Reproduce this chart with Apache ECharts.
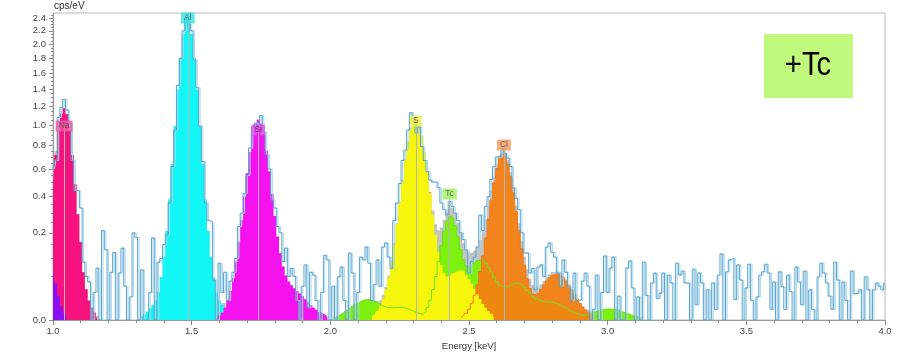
<!DOCTYPE html>
<html><head><meta charset="utf-8">
<script src="https://cdn.jsdelivr.net/npm/echarts@6/dist/echarts.min.js"></script>
<style>html,body{margin:0;padding:0;background:#fff}#c{width:897px;height:361px}</style>
</head><body><div id="c"></div>
<script>
// ---------- data (cps/eV, 10 eV channels) ----------
const channelStart = 1.00;
const channelWidth = 0.01;
const spectrum = [
 0.60,0.67,1.08,1.19,1.28,1.16,1.02,0.67,0.44,0.44,0.33,
 0.088,0.05,0.038,0,0.02,0.071,0,0.21,0.13,0,
 0.06,0.12,0,0.058,0.136,0.03,0,0.014,0.2,0.18,
 0,0.066,0,0,0.02,0.177,0,0.088,0.10,0.15,
 0.19,0.36,0.62,0.95,1.45,1.80,2.20,2.38,2.30,2.20,
 1.78,1.42,0.99,0.66,0.36,0.26,0.25,0.042,0,0.085,
 0.02,0.06,0.01,0.04,0.06,0.10,0.23,0.30,0.42,0.55,
 0.78,0.98,1.02,0.98,1.10,0.93,0.72,0.60,0.38,0.33,
 0.23,0.20,0.09,0.136,0.05,0.07,0.05,0.01,0,0.03,
 0.08,0.004,0.06,0.053,0.01,0,0.02,0.11,0.095,0,
 0.03,0,0.049,0.074,0.01,0,0.118,0.058,0,0.02,
 0.104,0.095,0.14,0.085,0.01,0.033,0.095,0.03,0.14,0.156,
 0.104,0.07,0.26,0.36,0.49,0.67,0.76,0.95,1.13,1.05,
 0.92,0.98,0.79,0.67,0.58,0.515,0.50,0.50,0.46,0.36,
 0.32,0.29,0.37,0.34,0.30,0.26,0.20,0.17,0.129,0.058,
 0.09,0.104,0.14,0.29,0.21,0.34,0.40,0.52,0.62,0.70,
 0.70,0.78,0.73,0.69,0.62,0.46,0.39,0.32,0.20,0.118,
 0.118,0.058,0.07,0.024,0.074,0.08,0.05,0.14,0.156,0.12,
 0.104,0.058,0.03,0.095,0.06,0.029,0.01,0.058,0.01,0.0105,
 0.04,0.058,0.03,0,0.003,0.053,0,0.02,0.108,0.02,
 0.071,0.104,0,0.015,0,0,0.071,0.092,0.027,0,
 0.014,0,0.088,0.016,0,0.036,0.058,0.012,0.019,0.058,
 0,0.053,0.036,0,0.085,0.053,0.063,0.036,0.036,0,
 0.068,0.006,0.058,0.036,0,0.024,0,0.036,0.003,0.053,
 0.115,0,0.061,0.095,0.101,0.011,0.08,0.042,0,0.027,
 0.082,0.01,0,0.014,0.053,0.061,0.082,0.058,0.003,0.038,
 0,0.061,0.029,0.003,0.053,0.021,0,0.074,0.038,0.006,
 0.063,0,0.024,0.003,0,0.049,0.085,0.058,0.036,0.015,
 0.003,0.088,0.042,0,0.038,0.01,0,0.063,0.018,0.019,
 0.024,0,0.049,0.024,0,0.024,0.036,0.03,0.024,0.036
];
const purpleStart = 1.00;
const purpleFit = [0.066,0.035,0.015,0.005,0.0015,0.0003];
const naStart = 1.00;
const naFit = [0.485,0.716,0.945,1.116,1.18,1.116,0.945,0.716,0.485,0.294,0.160,0.060,0.025,0.010,0.004,0.0015,0.0005];
const alStart = 1.32;
const alFit = [0.0003,0.0008,0.0018,0.0035,0.006,0.010,0.020,0.048,0.104,0.208,0.382,0.641,0.987,1.395,1.809,2.150,2.344,2.344,2.150,1.809,1.395,0.987,0.641,0.382,0.208,0.104,0.048,0.020,0.010,0.006,0.0035,0.0018,0.0008,0.0003];
const siStart = 1.59;
const siFit = [0.0002,0.0006,0.0015,0.0040,0.0099,0.022,0.046,0.089,0.159,0.262,0.400,0.566,0.742,0.900,1.010,1.054,1.016,0.908,0.753,0.581,0.418,0.284,0.184,0.117,0.075,0.052,0.039,0.032,0.0265,0.0223,0.0184,0.0147,0.0113,0.0083,0.0059,0.0040,0.0027,0.0017,0.0010,0.0006,0.0003];
const sStart = 2.15;
const sFit = [0.0004,0.0009,0.0022,0.0053,0.0118,0.0246,0.048,0.088,0.151,0.242,0.364,0.513,0.676,0.834,0.964,1.043,1.057,1.003,0.891,0.741,0.578,0.423,0.291,0.191,0.121,0.079,0.058,0.050,0.052,0.057,0.062,0.065,0.0645,0.0606,0.0535,0.0443,0.0345,0.0253,0.0174,0.0112,0.0068,0.0039,0.002,0.001,0.0005];
const tcStart = 2.01;
const tcFit = [0.0001,0.0002,0.0005,0.0009,0.0015,0.0024,0.0036,0.0050,0.0067,0.0083,
 0.0097,0.0107,0.0110,0.0107,0.0099,0.0086,0.0072,0.0059,0.0049,0.0042,
 0.0039,0.0039,0.0040,0.0041,0.0041,0.0039,0.0035,0.0030,0.0024,0.0018,
 0.0013,0.0010,0.0009,0.0016,0.0040,0.0103,0.0241,0.0499,0.0909,0.1459,
 0.2061,0.2565,0.2815,0.2730,0.2353,0.1827,0.1320,0.0952,0.0763,0.0723,
 0.0775,0.0858,0.0928,0.0954,0.0925,0.0846,0.0732,0.0604,0.0482,0.0384,
 0.0319,0.0289,0.0288,0.0306,0.0331,0.0351,0.0357,0.0345,0.0316,0.0275,
 0.0228,0.0184,0.0147,0.0119,0.0101,0.0092,0.0087,0.0086,0.0084,0.0080,
 0.0072,0.0064,0.0054,0.0043,0.0033,0.0024,0.0016,0.0012,0.0009,0.0007,
 0.0006,0.0008,0.0010,0.0013,0.0017,0.0022,0.0026,0.0029,0.0031,0.0032,
 0.0031,0.0029,0.0026,0.0022,0.0017,0.0013,0.0010,0.0007,0.0004,0.0003,
 0.0002,0.0001];
const clStart = 2.47;
const clFit = [0.0002,0.0005,0.0012,0.0031,0.0074,0.0161,0.0327,0.0618,0.108,0.177,
 0.268,0.378,0.495,0.603,0.683,0.720,0.703,0.640,0.541,0.425,
 0.310,0.211,0.134,0.079,0.045,0.026,0.0174,0.0159,0.0187,0.0245,
 0.0318,0.0396,0.0469,0.0525,0.0556,0.0556,0.0525,0.0469,0.0396,0.0315,
 0.0238,0.0169,0.0114,0.0072,0.0043,0.0025,0.0013,0.0007,0.0003];
const elementNames = ['Na','Al','Si','S','Tc','Cl'];
const elementEnergy = [1.040,1.486,1.740,2.308,2.430,2.626];
const elementLabelHeight = [0.99,2.40,0.949,1.041,0.4175,0.805];
const elementLabelColors = ['#f25aa6','#30e4e8','#e24ee8','#f0f050','#a2f262','#f59c5c'];
const yTop = 2.48;
const yTickLabels = [0,0.2,0.4,0.6,0.8,1.0,1.2,1.4,1.6,1.8,2.0,2.2,2.4];
const yMinorTicks = [0.05,0.1,0.15,0.25,0.3,0.35,0.45,0.5,0.55,0.65,0.7,0.75,0.85,0.9,0.95,1.05,1.1,1.15,1.25,1.3,1.35,1.45,1.5,1.55,1.65,1.7,1.75,1.85,1.9,1.95,2.05,2.1,2.15,2.25,2.3,2.35,2.45];

// ---------- helpers ----------
const sq = v => Math.sqrt(Math.max(v, 0));
const pairs = (start, arr) => arr.map((v, i) => [+(start + i * channelWidth).toFixed(3), sq(v)]);
const total = new Array(spectrum.length).fill(0);
[[purpleStart,purpleFit],[naStart,naFit],[alStart,alFit],[siStart,siFit],[sStart,sFit],[tcStart,tcFit],[clStart,clFit]].forEach(([s, a]) => {
  const o = Math.round((s - channelStart) / channelWidth);
  a.forEach((v, i) => { if (o + i >= 0 && o + i < total.length) total[o + i] += v; });
});
function fill(name, start, arr, color, opacity) {
  return { type: 'line', name, step: 'middle', symbol: 'none', silent: true,
    data: pairs(start, arr), lineStyle: { width: 0 },
    areaStyle: { color, opacity: opacity == null ? 1 : opacity } };
}

const chart = echarts.init(document.getElementById('c'), null, { renderer: 'canvas' });
chart.setOption({
  animation: false,
  textStyle: { fontFamily: 'Liberation Sans' },
  grid: { left: 53, right: 12, top: 13, bottom: 41, show: true, borderColor: '#b8b8b8', borderWidth: 1 },
  xAxis: {
    type: 'value', min: 1, max: 4, interval: 0.5,
    name: 'Energy [keV]', nameLocation: 'middle', nameGap: 18,
    nameTextStyle: { fontSize: 9.5, color: '#333' },
    axisLine: { lineStyle: { color: '#9a9a9a' } },
    axisTick: { length: 5, lineStyle: { color: '#8a8a8a' } },
    minorTick: { show: true, splitNumber: 5, length: 3, lineStyle: { color: '#8a8a8a' } },
    axisLabel: { formatter: v => v.toFixed(1), fontSize: 9.5, color: '#444', margin: 6 },
    splitLine: { show: false }, minorSplitLine: { show: false }
  },
  yAxis: [
    { type: 'value', min: 0, max: sq(yTop), position: 'left',
      name: 'cps/eV', nameLocation: 'end', nameGap: 2,
      nameTextStyle: { align: 'left', verticalAlign: 'bottom', fontSize: 10, color: '#333', padding: [0, 0, 0, 1] },
      axisLine: { show: true, lineStyle: { color: '#9a9a9a' } },
      axisTick: { show: true, length: 4, customValues: yTickLabels.map(sq), lineStyle: { color: '#8a8a8a' } },
      axisLabel: { customValues: yTickLabels.map(sq), formatter: v => (v * v).toFixed(1), fontSize: 9.5, color: '#444', margin: 7 },
      splitLine: { show: false } },
    { type: 'value', min: 0, max: sq(yTop), position: 'left',
      axisLine: { show: false }, axisLabel: { show: false },
      axisTick: { show: true, length: 2, customValues: yMinorTicks.map(sq), lineStyle: { color: '#8a8a8a' } },
      splitLine: { show: false } }
  ],
  series: [
    fill('Total', channelStart, total, '#c3c3c3'),
    fill('Tc', tcStart, tcFit, '#7ef00e'),
    fill('Cl', clStart, clFit, '#f47f12', 0.94),
    fill('S', sStart, sFit, '#f6f60c'),
    fill('Na', naStart, naFit, '#f7137f'),
    fill('purple', purpleStart, purpleFit, '#8c0ff2'),
    fill('Al', alStart, alFit, '#12f6f6'),
    fill('Si', siStart, siFit, '#f512ee'),
    { type: 'line', name: 'Tc line', step: 'middle', symbol: 'none', silent: true,
      data: pairs(tcStart, tcFit), lineStyle: { color: '#6ee01a', width: 1 },
      markLine: { silent: true, symbol: ['none', 'none'], label: { show: false },
        lineStyle: { color: '#b5b5b5', width: 1, type: 'solid' },
        data: elementEnergy.map((e, i) => [{ coord: [e, 0] }, { coord: [e, sq(elementLabelHeight[i])] }]) } },
    { type: 'line', name: 'Cl line', step: 'middle', symbol: 'none', silent: true,
      data: pairs(clStart, clFit), lineStyle: { color: '#f07818', width: 1 } },
    { type: 'line', name: 'Spectrum', step: 'middle', symbol: 'none', silent: true,
      data: pairs(channelStart, spectrum),
      lineStyle: { color: '#5aa3cd', width: 1, shadowColor: '#a8d8ec', shadowBlur: 0, shadowOffsetX: 1.5 } },
    { type: 'scatter', name: 'labels', symbol: 'rect', symbolSize: 1, silent: true, z: 20,
      itemStyle: { color: 'rgba(0,0,0,0)' },
      data: elementNames.map((n, i) => ({ name: n, value: [elementEnergy[i], sq(elementLabelHeight[i])],
        label: { backgroundColor: elementLabelColors[i] } })),
      label: { show: true, position: 'inside', formatter: '{b}', fontSize: 8.5, color: '#4a4a4a', padding: [1, 3, 1, 3] } }
  ],
  graphic: [
    { type: 'rect', shape: { x: 764, y: 34, width: 89, height: 64 }, style: { fill: '#c0fa7c' }, z: 100 },
    { type: 'text', x: 808, y: 66, scaleX: 0.86, z: 101,
      style: { text: '+Tc', font: '34px "Liberation Sans"', fill: '#000', align: 'center', verticalAlign: 'middle' } }
  ]
});
</script></body></html>
